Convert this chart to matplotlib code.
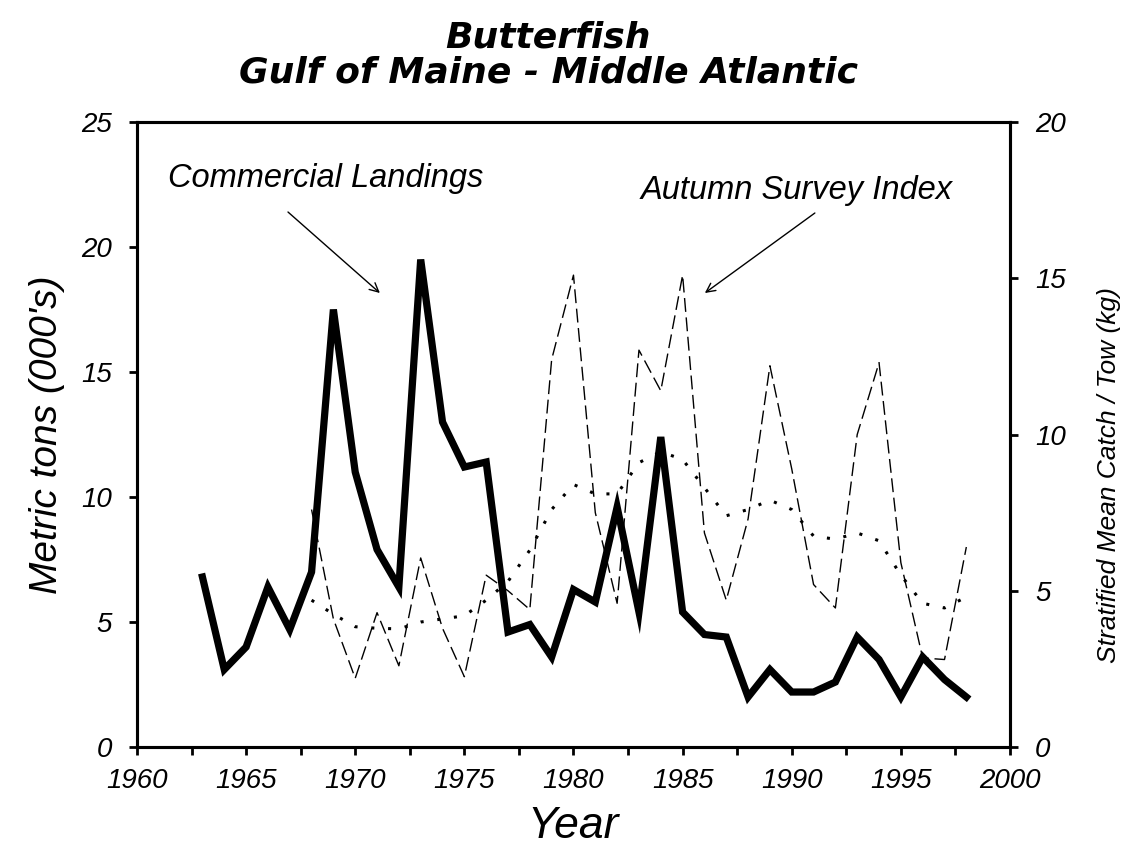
import matplotlib
matplotlib.use("Agg")
import matplotlib.pyplot as plt
from matplotlib.ticker import MultipleLocator

plt.rcParams['font.family'] = ['Liberation Sans', 'DejaVu Sans']

# Commercial landings (000's metric tons), left axis
land_years = list(range(1963, 1999))
landings = [6.8, 3.1, 4.0, 6.4, 4.7, 7.0, 17.5, 11.0, 7.9, 6.4,
            19.5, 13.0, 11.2, 11.4, 4.6, 4.9, 3.6, 6.3, 5.8, 9.6,
            5.4, 12.4, 5.4, 4.5, 4.4, 2.0, 3.1, 2.2, 2.2, 2.6,
            4.4, 3.5, 2.0, 3.6, 2.7, 2.0]

# Autumn survey index (stratified mean catch/tow, kg), right axis
surv_years = list(range(1968, 1999))
survey = [7.6, 4.1, 2.2, 4.3, 2.6, 6.05, 3.8, 2.25, 5.5, 5.0,
          4.4, 12.4, 15.1, 7.5, 4.6, 12.7, 11.4, 15.1, 6.85, 4.7,
          7.3, 12.2, 8.9, 5.2, 4.45, 10.0, 12.3, 5.9, 2.85, 2.8, 6.4]

# Smoothed survey trend, right axis
trend = [4.7, 4.25, 3.85, 3.8, 3.78, 4.0, 4.1, 4.2, 4.7, 5.3,
         6.3, 7.6, 8.4, 8.1, 8.1, 9.1, 9.45, 9.2, 8.3, 7.4,
         7.6, 7.9, 7.6, 6.75, 6.65, 6.85, 6.6, 5.5, 4.6, 4.45, 4.8]

fig = plt.figure(figsize=(11.3, 8.52), dpi=100)
ax = fig.add_axes([0.1212, 0.1232, 0.7726, 0.7336])
ax2 = ax.twinx()

ax.plot(land_years, landings, color='black', lw=5.2, solid_joinstyle='miter', zorder=3)
ax2.plot(surv_years, survey, color='black', lw=1.0, linestyle=(0, (10, 4)))
ax2.plot(surv_years, trend, color='black', lw=2.2, linestyle=(0, (1, 4.5)))

ax.set_xlim(1960, 2000)
ax.set_ylim(0, 25)
ax2.set_ylim(0, 20)

ax.xaxis.set_major_locator(MultipleLocator(5))
ax.xaxis.set_minor_locator(MultipleLocator(2.5))
ax.yaxis.set_major_locator(MultipleLocator(5))
ax2.yaxis.set_major_locator(MultipleLocator(5))

for a in (ax, ax2):
    for s in a.spines.values():
        s.set_linewidth(2.2)
ax.tick_params(axis='x', which='both', direction='out', length=6, width=2, pad=9,
               labelsize=20)
ax.tick_params(axis='y', direction='out', length=6, width=2, pad=12, labelsize=20)
ax2.tick_params(axis='y', direction='out', length=6, width=2, pad=12, labelsize=20)
for lab in ax.get_xticklabels() + ax.get_yticklabels() + ax2.get_yticklabels():
    lab.set_fontstyle('italic')

ax.set_xlabel('Year', fontsize=32, style='italic', labelpad=9)
ax.set_ylabel("Metric tons (000's)", fontsize=28, style='italic', labelpad=12)
ax2.set_ylabel('Stratified Mean Catch / Tow (kg)', fontsize=19, style='italic')
ax2.yaxis.set_label_coords(1.10, 0.435)

ax.text(1968.66, 22.76, 'Commercial Landings', fontsize=23.5, style='italic',
        ha='center', va='center')
ax.annotate('', xy=(1971.13, 18.16), xytext=(1966.92, 21.4),
            arrowprops=dict(arrowstyle='->', color='black', lw=1.0,
                            shrinkA=0, shrinkB=0, mutation_scale=16))
ax.text(1990.23, 22.28, 'Autumn Survey Index', fontsize=23.5, style='italic',
        ha='center', va='center')
ax.annotate('', xy=(1986.02, 18.16), xytext=(1991.06, 21.36),
            arrowprops=dict(arrowstyle='->', color='black', lw=1.0,
                            shrinkA=0, shrinkB=0, mutation_scale=16))

fig.text(0.485, 0.956, 'Butterfish', fontsize=26, fontweight='bold', style='italic',
         ha='center', va='center', family='DejaVu Sans')
fig.text(0.485, 0.915, 'Gulf of Maine - Middle Atlantic', fontsize=26, fontweight='bold',
         style='italic', ha='center', va='center', family='DejaVu Sans')

fig.savefig('out.png', dpi=100)
